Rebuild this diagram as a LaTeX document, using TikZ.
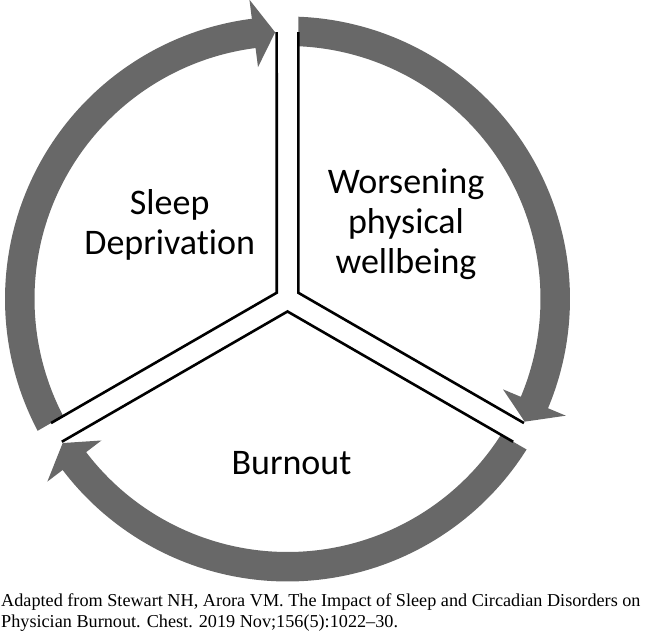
\documentclass[tikz,border=0pt]{standalone}
\usepackage{fontspec}
\setmainfont{Carlito}[Ligatures=CommonOff]
\newfontfamily\capfont{Liberation Serif}
\definecolor{ringgray}{RGB}{104,104,104}
\begin{document}
\begin{tikzpicture}[x=1pt,y=1pt,
  seg/.style={fill=ringgray, draw=none},
  divider/.style={draw=black, line width=2.6pt, line join=miter},
  lbl/.style={font=\fontsize{36}{40}\selectfont, align=center, inner sep=0pt, anchor=base},
  caption/.style={font=\capfont\fontsize{18.2}{21.4}\selectfont, align=left, inner sep=0pt, anchor=base west}]
\useasboundingbox (0,0) rectangle (645,631);
\coordinate (C) at (287.5,332);
% ring segments with arrow heads
\foreach \r in {0,-120,-240}{
  \begin{scope}[shift={(C)}, rotate=\r]
    \fill[seg] (87.81:282.5) arc[start angle=87.81, end angle=-22.75, radius=282.5]
      -- (-22.75:301.75) -- (-27.35:267) -- (-22.75:233.75) -- (-22.75:253)
      arc[start angle=-22.75, end angle=87.55, radius=253] -- cycle;
  \end{scope}
}
% dividers
\foreach \r in {0,-120,-240}{
  \begin{scope}[shift={(C)}, rotate=\r]
    \draw[divider] (92.32:267) -- (150:12.47) -- (207.68:267);
  \end{scope}
}
\node[lbl] (sleep) at (169.7,376) {Sleep\\Deprivation};
\node[lbl] (worse) at (406,357.5) {Worsening\\physical\\wellbeing};
\node[lbl] (burn) at (291.5,156) {Burnout};
\node[caption] (cap) at (1,3) {Adapted from Stewart NH, Arora VM. The Impact of Sleep and Circadian Disorders on\\Physician Burnout. Chest. 2019 Nov;156(5):1022–30.};
\end{tikzpicture}
\end{document}
